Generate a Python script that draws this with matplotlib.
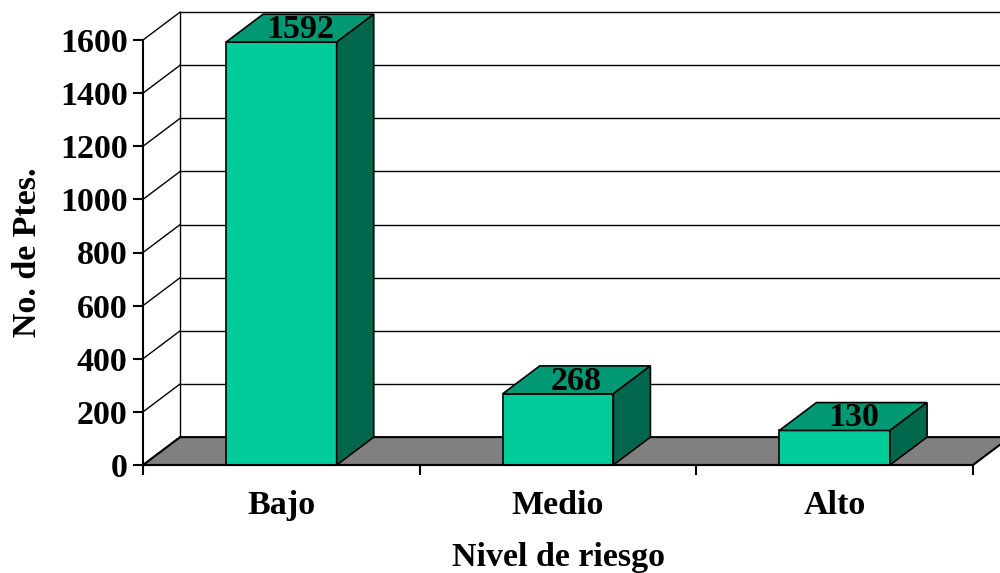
import matplotlib
matplotlib.use("Agg")
import matplotlib.pyplot as plt
from matplotlib.patches import Polygon

# Data
categories = ["Bajo", "Medio", "Alto"]
patients = [1592, 268, 130]
y_ticks = [0, 200, 400, 600, 800, 1000, 1200, 1400, 1600]

x_label = "Nivel de riesgo"
y_label = "No. de Ptes."

# Styling
serif = ["Liberation Serif", "DejaVu Serif"]
fs = 24.5
face_front = "#00CC99"
face_top = "#009973"
face_side = "#00664C"
floor_color = "#808080"
bar_width = 0.4
depth_x = 0.134        # depth offset along x (category units)
depth_y = 105.0        # depth offset along y (value units)

fig = plt.figure(figsize=(10, 5.73), dpi=100)
ax = fig.add_axes([0.143, (573 - 465) / 573, 0.830, (465 - 40) / 573])
n = len(categories)
ax.set_xlim(-0.5, n - 0.5)
ax.set_ylim(y_ticks[0], y_ticks[-1])
ax.patch.set_visible(False)

x0, x1 = -0.5, n - 0.5
ymax = y_ticks[-1]

# Floor
floor = Polygon([(x0, 0), (x1, 0), (x1 + depth_x, depth_y), (x0 + depth_x, depth_y)],
                closed=True, facecolor=floor_color, edgecolor="black", lw=1.5,
                clip_on=False, zorder=1)
ax.add_patch(floor)

# Side wall diagonals and back wall gridlines
for v in y_ticks:
    ax.plot([x0, x0 + depth_x], [v, v + depth_y], color="black", lw=1.0,
            clip_on=False, zorder=1.5)
    if v > 0:
        ax.plot([x0 + depth_x, x1 + depth_x], [v + depth_y, v + depth_y],
                color="black", lw=1.0, clip_on=False, zorder=1.5)
ax.plot([x0 + depth_x, x0 + depth_x], [depth_y, ymax + depth_y], color="black",
        lw=1.0, clip_on=False, zorder=1.5)

# Bars: front faces plus top and side faces
xs = list(range(n))
bars = ax.bar(xs, patients, width=bar_width, color=face_front, edgecolor="black",
              lw=1.2, zorder=3, clip_on=False)
for x, v in zip(xs, patients):
    l, r = x - bar_width / 2, x + bar_width / 2
    top = Polygon([(l, v), (r, v), (r + depth_x, v + depth_y), (l + depth_x, v + depth_y)],
                  closed=True, facecolor=face_top, edgecolor="black", lw=1.2,
                  clip_on=False, zorder=3)
    side = Polygon([(r, 0), (r + depth_x, depth_y), (r + depth_x, v + depth_y), (r, v)],
                   closed=True, facecolor=face_side, edgecolor="black", lw=1.2,
                   clip_on=False, zorder=3)
    ax.add_patch(top)
    ax.add_patch(side)
    ax.text(x + depth_x / 2, v + depth_y / 2 - 5, f"{v}", ha="center", va="center",
            fontsize=fs, fontweight="bold", family=serif, zorder=5)

# Axes
for s in ["top", "right"]:
    ax.spines[s].set_visible(False)
for s in ["left", "bottom"]:
    ax.spines[s].set_linewidth(1.5)
    ax.spines[s].set_zorder(4)

ax.set_yticks(y_ticks)
ax.set_yticklabels([str(t) for t in y_ticks], family=serif, fontweight="bold",
                   fontsize=fs)
ax.tick_params(axis="y", direction="out", length=7, width=1.5, pad=4)

ax.set_xticks([i - 0.5 for i in range(n + 1)])
ax.set_xticklabels([])
ax.set_xticks(xs, minor=True)
ax.set_xticklabels(categories, minor=True, family=serif, fontweight="bold", fontsize=fs)
ax.tick_params(axis="x", which="major", direction="out", length=7, width=1.5)
ax.tick_params(axis="x", which="minor", length=0, pad=18)

ax.set_xlabel(x_label, family=serif, fontweight="bold", fontsize=fs, labelpad=15)
ax.set_ylabel(y_label, family=serif, fontweight="bold", fontsize=fs, labelpad=12)

fig.savefig("out.png", dpi=100, facecolor="white")
